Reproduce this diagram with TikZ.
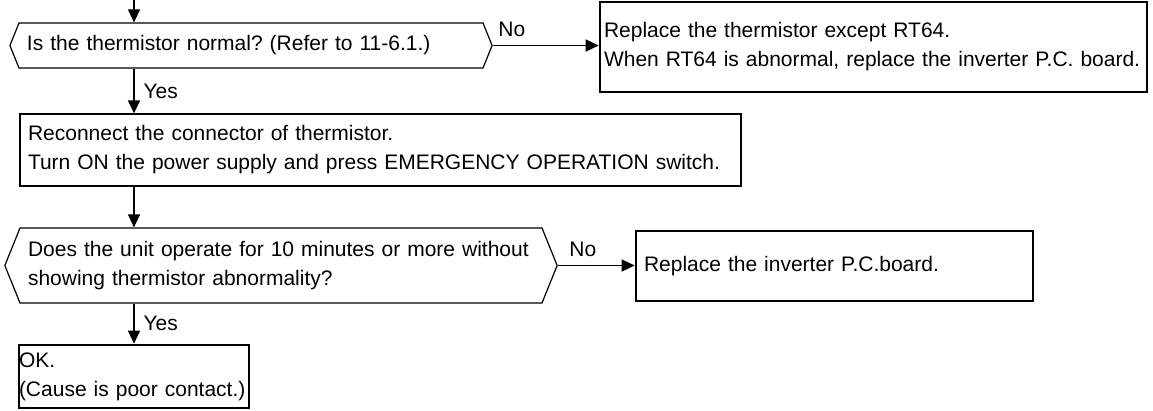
\documentclass[tikz,border=0pt]{standalone}
\usepackage{fontspec}
\setmainfont{Liberation Sans}
\usepackage{tikz}
\usetikzlibrary{positioning,arrows.meta,shapes.symbols}
\frenchspacing
\hyphenpenalty=10000
\exhyphenpenalty=10000

\begin{document}
\begin{tikzpicture}[x=1pt, y=-1pt,
  every node/.style={font=\fontsize{21}{29}\selectfont},
  box/.style={draw, line width=1.2pt, rectangle, align=left, inner ysep=0pt},
  boldbox/.style={box, line width=2.6pt},
  query/.style={draw, line width=1.2pt, shape=signal, signal to=west and east,
    signal pointer angle=136, align=left, inner xsep=8pt, inner ysep=0pt},
  lbl/.style={inner sep=0pt},
  arr/.style={-{Triangle[length=13pt, width=12pt]}, line width=1.3pt},
]
  \useasboundingbox (0,0) rectangle (1153,410);
  \coordinate (start) at (134,0);

  \node[query, text width=448pt, minimum height=45pt] (chk) at (251,45.5)
    {Is the thermistor normal? (Refer to 11-6.1.)};
  \node[boldbox, text width=539pt, inner xsep=4pt, minimum height=90pt] (swap) at (873.5,47)
    {Replace the thermistor except RT64.\\When RT64 is abnormal, replace the inverter P.C. board.};
  \node[box, text width=705pt, inner xsep=8pt, minimum height=72pt] (fix) at (380.5,150)
    {Reconnect the connector of thermistor.\\Turn ON the power supply and press EMERGENCY OPERATION switch.};
  \node[query, text width=506pt, minimum height=75pt] (run) at (281,265.5)
    {Does the unit operate for 10 minutes or more without\\showing thermistor abnormality?};
  \node[boldbox, text width=381pt, inner xsep=8pt, minimum height=70pt] (board) at (834.5,266)
    {Replace the inverter P.C.board.};
  \node[boldbox, text width=230pt, inner xsep=0pt, minimum height=63pt] (ok) at (134,376.5)
    {OK.\\(Cause is poor contact.)};

  \draw[arr] (start) -- (start |- chk.north);
  \draw[arr] (chk.east) -- node[lbl, pos=0, above right=8pt and 5pt] (no1) {No} (chk.east -| swap.west);
  \draw[arr] (start |- chk.south) -- node[lbl, right=9pt] (yes1) {Yes} (start |- fix.north);
  \draw[arr] (start |- fix.south) -- (start |- run.north);
  \draw[arr] (run.east) -- node[lbl, pos=0, above right=8pt and 11pt] (no2) {No} (run.east -| board.west);
  \draw[arr] (start |- run.south) -- node[lbl, right=9pt] (yes2) {Yes} (start |- ok.north);
\end{tikzpicture}
\end{document}
